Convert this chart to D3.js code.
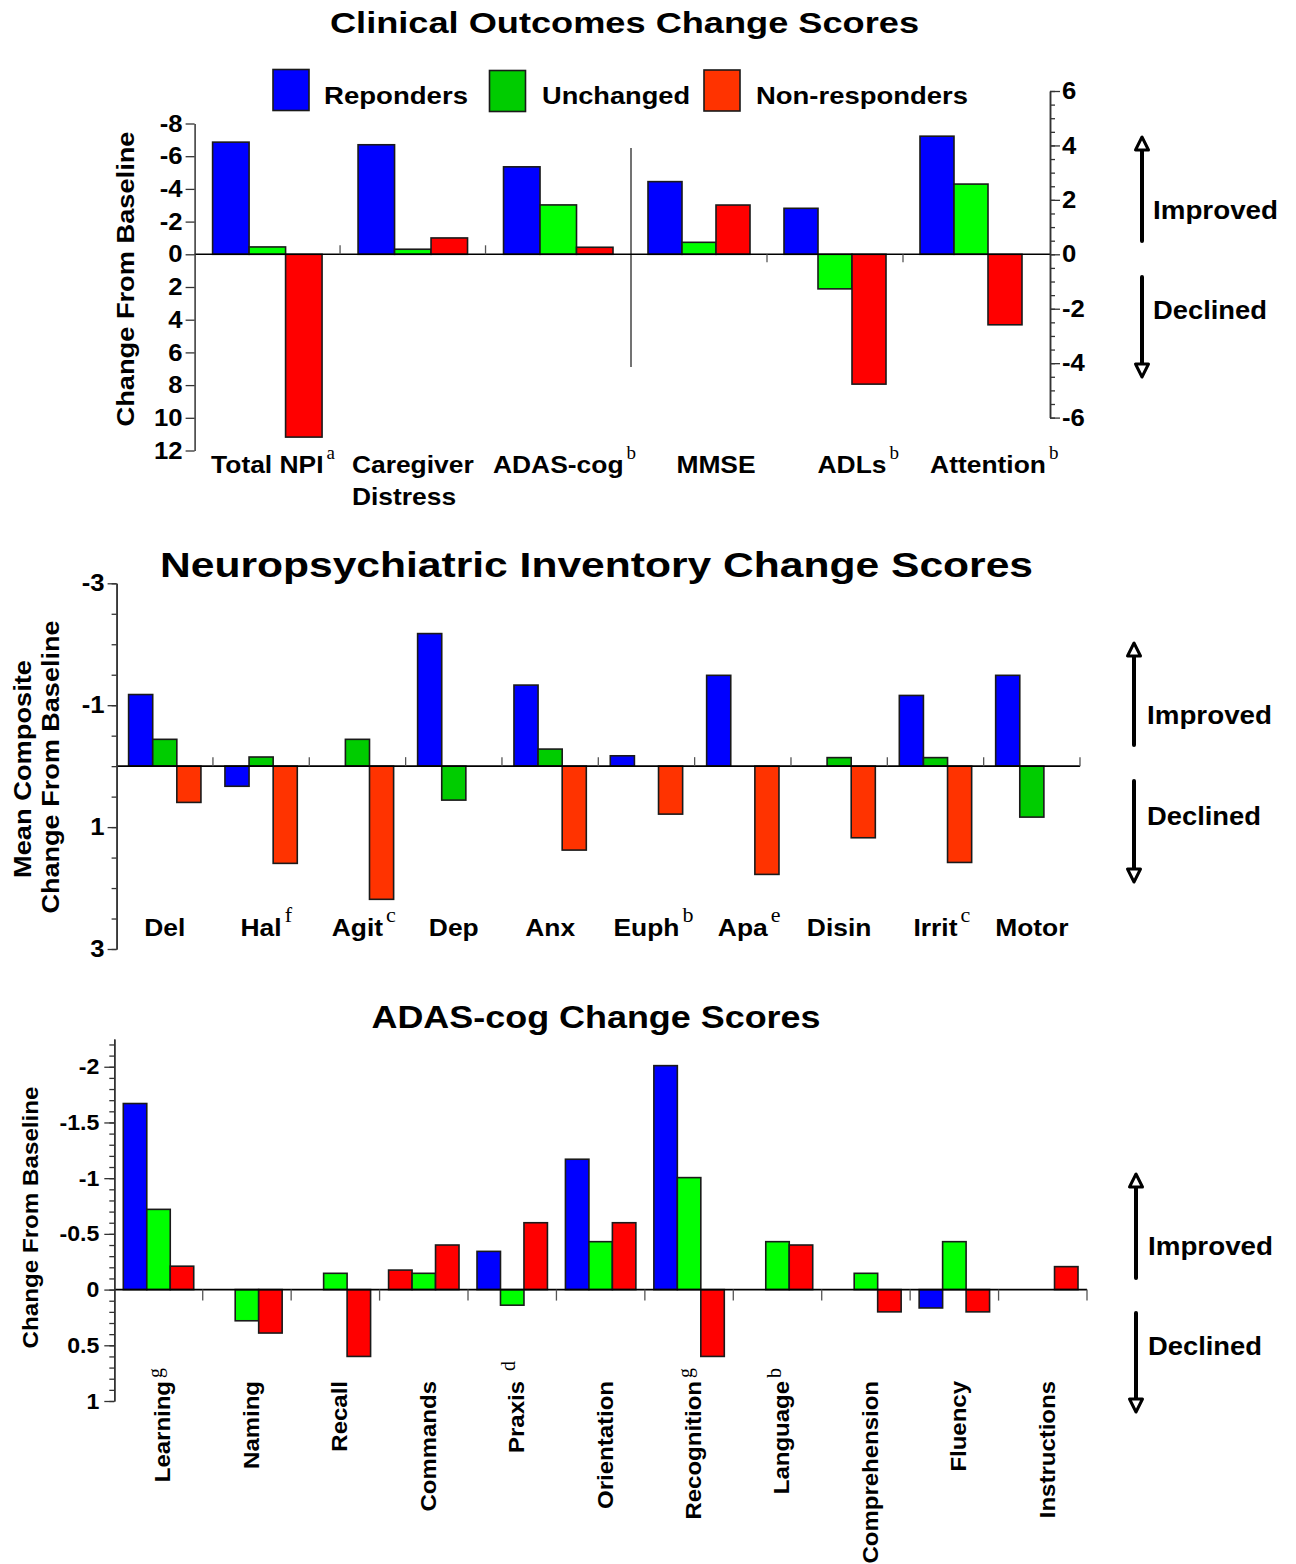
<!DOCTYPE html>
<html>
<head>
<meta charset="utf-8">
<script src="https://cdn.jsdelivr.net/npm/d3@7"></script>
<style>
  body { margin: 0; background: #fff; }
  svg { display: block; }
</style>
</head>
<body>
<svg id="chart" width="1296" height="1564"></svg>
<script>
// ---- data ----
const series = ["Reponders", "Unchanged", "Non-responders"];

// Clinical outcomes: left panel (left axis, negative = improved)
const clinicalLeftCats = ["Total NPI", "Caregiver|Distress", "ADAS-cog"];
const clinicalLeftSups = ["a", "", "b"];
const clinicalLeftResponders = [-6.86, -6.7, -5.35];
const clinicalLeftUnchanged = [-0.45, -0.31, -3.02];
const clinicalLeftNonresponders = [11.18, -1.0, -0.43];

// Clinical outcomes: right panel (right axis, positive = improved)
const clinicalRightCats = ["MMSE", "ADLs", "Attention"];
const clinicalRightSups = ["", "b", "b"];
const clinicalRightResponders = [2.67, 1.69, 4.34];
const clinicalRightUnchanged = [0.44, -1.27, 2.58];
const clinicalRightNonresponders = [1.81, -4.77, -2.59];

const clinicalLeftTicks = [-8, -6, -4, -2, 0, 2, 4, 6, 8, 10, 12];
const clinicalRightTicks = [6, 4, 2, 0, -2, -4, -6];

// Neuropsychiatric inventory
const npiCats = ["Del", "Hal", "Agit", "Dep", "Anx", "Euph", "Apa", "Disin", "Irrit", "Motor"];
const npiSups = ["", "f", "c", "", "", "b", "e", "", "c", ""];
const npiResponders = [-1.175, 0.33, null, -2.175, -1.33, -0.17, -1.49, null, -1.16, -1.49];
const npiUnchanged = [-0.44, -0.15, -0.44, 0.557, -0.28, null, null, -0.14, -0.14, 0.836];
const npiNonresponders = [0.595, 1.595, 2.185, null, 1.377, 0.787, 1.776, 1.175, 1.58, null];
const npiTicks = [-3, -1, 1, 3];

// ADAS-cog
const adasCats = ["Learning", "Naming", "Recall", "Commands", "Praxis", "Orientation",
  "Recognition", "Language", "Comprehension", "Fluency", "Instructions"];
const adasSups = ["g", "", "", "", " d", "", "g", "b", "", "", ""];
const adasResponders = [-1.67, null, null, -0.175, -0.343, -1.17, -2.01, null, null, 0.165, null];
const adasUnchanged = [-0.72, 0.28, -0.146, -0.146, 0.14, -0.43, -1.005, -0.43, -0.146, -0.43, null];
const adasNonresponders = [-0.21, 0.39, 0.6, -0.40, -0.60, -0.60, 0.6, -0.40, 0.2, 0.2, -0.206];
const adasTicks = [-2, -1.5, -1, -0.5, 0, 0.5, 1];

// ---- styles ----
const SANS = 'Arial, "Liberation Sans", Helvetica, sans-serif';
const SERIF = '"Liberation Serif", "Times New Roman", serif';
const brightColors = ["#0000FF", "#00FF00", "#FF0000"];
const npiColors = ["#0000FF", "#00CC00", "#FF3300"];
const legendColors = ["#0000FF", "#00CC00", "#FF3300"];
// the first Commands bar is drawn red in the original figure
const adasFillOverride = { "Commands": { 0: "#FF0000" } };
const STRETCH = 1.1; // the original type is set a little wider than Arial

const svg = d3.select("#chart");

// widen a text element's glyphs by factor k, returns the new width
function stretch(t, k) {
  const w = t.node().getComputedTextLength() * k;
  t.attr("textLength", w).attr("lengthAdjust", "spacingAndGlyphs");
  return w;
}

function txt(g, s, x, y, size, opts = {}) {
  const t = g.append("text")
    .attr("x", x).attr("y", y)
    .attr("font-family", opts.serif ? SERIF : SANS)
    .attr("font-weight", opts.serif ? "normal" : "bold")
    .attr("font-size", size)
    .attr("fill", "#000")
    .attr("text-anchor", opts.anchor || "start")
    .text(s);
  if (opts.transform) t.attr("transform", opts.transform);
  if (opts.len) t.attr("textLength", opts.len).attr("lengthAdjust", "spacingAndGlyphs");
  else if (opts.k) stretch(t, opts.k);
  return t;
}

function drawBars(g, cats, valueLists, colors, x0, x1, y, override) {
  valueLists.forEach((vals, si) => {
    const rows = cats.map((c, i) => ({ c, v: vals[i] })).filter(d => d.v !== null);
    g.selectAll(null).data(rows).join("rect")
      .attr("x", d => x0(d.c) + x1(series[si]))
      .attr("y", d => Math.min(y(0), y(d.v)))
      .attr("width", x1.bandwidth())
      .attr("height", d => Math.abs(y(d.v) - y(0)))
      .attr("fill", d => (override && override[d.c] && override[d.c][si]) || colors[si])
      .attr("stroke", "#1a1a1a")
      .attr("stroke-width", 1.6);
  });
}

function styleAxis(ax, size, k) {
  ax.attr("color", "#333");
  ax.select(".domain").attr("stroke-width", 1.5);
  ax.selectAll(".tick line").attr("stroke-width", 1.3);
  ax.selectAll("text")
    .attr("font-family", SANS).attr("font-weight", "bold")
    .attr("font-size", size).attr("fill", "#000")
    .each(function () { if (k && this.textContent) stretch(d3.select(this), k); });
}

function separators(g, x0, y0, dir, len, withEnd) {
  const bounds = x0.domain().slice(1).map(c => x0(c));
  if (withEnd) bounds.push(x0.range()[1]);
  g.selectAll(null).data(bounds).join("line")
    .attr("x1", d => d).attr("x2", d => d)
    .attr("y1", y0).attr("y2", y0 + dir * len)
    .attr("stroke", "#555").attr("stroke-width", 1.3);
}

function arrows(g, x, tipUp, endUp, topDown, tipDown, tx, impY, decY) {
  g.append("line").attr("x1", x).attr("x2", x).attr("y1", tipUp + 12).attr("y2", endUp)
    .attr("stroke", "#000").attr("stroke-width", 4).attr("stroke-linecap", "round");
  g.append("path")
    .attr("d", `M${x},${tipUp} L${x - 6.5},${tipUp + 13} L${x + 6.5},${tipUp + 13} Z`)
    .attr("fill", "#fff").attr("stroke", "#000").attr("stroke-width", 3).attr("stroke-linejoin", "round");
  g.append("line").attr("x1", x).attr("x2", x).attr("y1", topDown).attr("y2", tipDown - 12)
    .attr("stroke", "#000").attr("stroke-width", 4).attr("stroke-linecap", "round");
  g.append("path")
    .attr("d", `M${x},${tipDown} L${x - 6.5},${tipDown - 13} L${x + 6.5},${tipDown - 13} Z`)
    .attr("fill", "#fff").attr("stroke", "#000").attr("stroke-width", 3).attr("stroke-linejoin", "round");
  txt(g, "Improved", tx, impY, 25, { len: 125 });
  txt(g, "Declined", tx, decY, 25, { len: 114 });
}

function labelWithSup(g, label, sup, cx, y, size, supSize, raise) {
  const t = txt(g, label, cx, y, size, { anchor: "middle", k: STRETCH });
  if (sup) {
    const w = +t.attr("textLength");
    txt(g, sup.trim(), cx + w / 2 + (sup.startsWith(" ") ? 6 : 3), y - raise, supSize, { serif: true });
  }
}

// ================= Chart 1: Clinical Outcomes =================
const c1 = svg.append("g");
txt(c1, "Clinical Outcomes Change Scores", 330, 33, 30, { len: 589 });

// legend
const legendBoxes = [[273, 69.5], [489.5, 70.5], [704, 70]];
const legendTextX = [324, 542, 756];
const legendLen = [144, 148, 212];
series.forEach((s, i) => {
  c1.append("rect").attr("x", legendBoxes[i][0]).attr("y", legendBoxes[i][1])
    .attr("width", 36).attr("height", 41)
    .attr("fill", legendColors[i]).attr("stroke", "#1a1a1a").attr("stroke-width", 1.6);
  txt(c1, s, legendTextX[i], 104, 24, { len: legendLen[i] });
});

const yL = d3.scaleLinear().domain([-8, 12]).range([123.5, 450.5]);
const yR = d3.scaleLinear().domain([6, -6]).range([91, 417.6]);
const x0L = d3.scaleBand().domain(clinicalLeftCats).range([194.6, 631]);
const x1L = d3.scaleBand().domain(series).range([18, x0L.bandwidth() - 18]);
const x0R = d3.scaleBand().domain(clinicalRightCats).range([631, 1039]);
const x1R = d3.scaleBand().domain(series).range([17, x0R.bandwidth() - 17]);

// divider between the two panels
c1.append("line").attr("x1", 631).attr("x2", 631).attr("y1", 148).attr("y2", 367)
  .attr("stroke", "#444").attr("stroke-width", 1.5);

drawBars(c1, clinicalLeftCats,
  [clinicalLeftResponders, clinicalLeftUnchanged, clinicalLeftNonresponders],
  brightColors, x0L, x1L, yL);
drawBars(c1, clinicalRightCats,
  [clinicalRightResponders, clinicalRightUnchanged, clinicalRightNonresponders],
  brightColors, x0R, x1R, yR);

c1.append("line").attr("x1", 194.6).attr("x2", 1050).attr("y1", yL(0)).attr("y2", yL(0))
  .attr("stroke", "#000").attr("stroke-width", 1.6);
separators(c1, x0L, yL(0), -1, 9, false);
separators(c1, x0R, yL(0), 1, 8, false);

const axL = c1.append("g").attr("transform", "translate(194.6,0)")
  .call(d3.axisLeft(yL).tickValues(clinicalLeftTicks).tickFormat(d => String(d))
    .tickSize(9).tickSizeOuter(0).tickPadding(3));
styleAxis(axL, 24, 1.07);

const axRminor = c1.append("g").attr("transform", "translate(1050,0)")
  .call(d3.axisRight(yR).tickValues(d3.range(-6, 6.01, 0.5)).tickFormat("")
    .tickSize(5).tickSizeOuter(0));
styleAxis(axRminor, 24);
const axR = c1.append("g").attr("transform", "translate(1050,0)")
  .call(d3.axisRight(yR).tickValues(clinicalRightTicks).tickFormat(d => String(d))
    .tickSize(10).tickSizeOuter(0).tickPadding(2));
styleAxis(axR, 24, 1.07);

txt(c1, "Change From Baseline", 0, 0, 24,
  { anchor: "middle", len: 295, transform: "translate(134,279) rotate(-90)" });

clinicalLeftCats.forEach((c, i) => {
  const cx = x0L(c) + x0L.bandwidth() / 2;
  const lines = c.split("|");
  if (lines.length > 1) {
    const t = txt(c1, lines[0], cx, 473, 24, { anchor: "middle", k: STRETCH });
    const w = +t.attr("textLength");
    txt(c1, lines[1], cx - w / 2, 505, 24, { k: STRETCH });
  } else {
    labelWithSup(c1, c, clinicalLeftSups[i], cx, 473, 24, 19, 14);
  }
});
clinicalRightCats.forEach((c, i) => {
  const cx = x0R(c) + x0R.bandwidth() / 2 + 17;
  labelWithSup(c1, c, clinicalRightSups[i], cx, 473, 24, 19, 14);
});

arrows(c1, 1142, 137, 241, 277, 377, 1153, 219, 319);

// ================= Chart 2: Neuropsychiatric Inventory =================
const c2 = svg.append("g");
txt(c2, "Neuropsychiatric Inventory Change Scores", 160, 577, 35, { len: 873 });

const yN = d3.scaleLinear().domain([-3, 3]).range([583.3, 949]);
const x0N = d3.scaleBand().domain(npiCats).range([116.6, 1080]);
const x1N = d3.scaleBand().domain(series).range([12, x0N.bandwidth() - 12]);

drawBars(c2, npiCats, [npiResponders, npiUnchanged, npiNonresponders], npiColors, x0N, x1N, yN);

c2.append("line").attr("x1", 116.6).attr("x2", 1080).attr("y1", yN(0)).attr("y2", yN(0))
  .attr("stroke", "#000").attr("stroke-width", 1.6);
separators(c2, x0N, yN(0), -1, 9, true);

const axNminor = c2.append("g").attr("transform", "translate(116.6,0)")
  .call(d3.axisLeft(yN).tickValues(d3.range(-3, 3.01, 0.5)).tickFormat("")
    .tickSize(5).tickSizeOuter(0));
styleAxis(axNminor, 24);
const axN = c2.append("g").attr("transform", "translate(116.6,0)")
  .call(d3.axisLeft(yN).tickValues(npiTicks).tickFormat(d => String(d))
    .tickSize(9).tickSizeOuter(0).tickPadding(3));
styleAxis(axN, 24, 1.07);

txt(c2, "Mean Composite", 0, 0, 24,
  { anchor: "middle", len: 218, transform: "translate(30.5,769) rotate(-90)" });
txt(c2, "Change From Baseline", 0, 0, 24,
  { anchor: "middle", len: 293, transform: "translate(59,767) rotate(-90)" });

npiCats.forEach((c, i) => {
  const cx = x0N(c) + x0N.bandwidth() / 2;
  labelWithSup(c2, c, npiSups[i], cx, 936, 24, 22, 14);
});

arrows(c2, 1134, 643, 745, 781, 882, 1147, 724, 825);

// ================= Chart 3: ADAS-cog =================
const c3 = svg.append("g");
txt(c3, "ADAS-cog Change Scores", 371.5, 1028, 32, { len: 449 });

const yA = d3.scaleLinear().domain([-2.25, 1]).range([1038.9, 1401]);
const x0A = d3.scaleBand().domain(adasCats).range([114.3, 1087]);
const x1A = d3.scaleBand().domain(series).range([9, x0A.bandwidth() - 9]);

drawBars(c3, adasCats, [adasResponders, adasUnchanged, adasNonresponders],
  brightColors, x0A, x1A, yA, adasFillOverride);

c3.append("line").attr("x1", 114.3).attr("x2", 1087).attr("y1", yA(0)).attr("y2", yA(0))
  .attr("stroke", "#000").attr("stroke-width", 1.6);
separators(c3, x0A, yA(0), 1, 11, true);

const axAminor = c3.append("g").attr("transform", "translate(114.3,0)")
  .call(d3.axisLeft(yA).tickValues(d3.range(-22, 11).map(d => d / 10)).tickFormat("")
    .tickSize(5).tickSizeOuter(0));
styleAxis(axAminor, 22);
const axA = c3.append("g").attr("transform", "translate(114.3,0)")
  .call(d3.axisLeft(yA).tickValues(adasTicks).tickFormat(d => String(d))
    .tickSize(10).tickSizeOuter(0).tickPadding(5));
styleAxis(axA, 22, 1.05);

txt(c3, "Change From Baseline", 0, 0, 22,
  { anchor: "middle", len: 262, transform: "translate(37.5,1217.5) rotate(-90)" });

adasCats.forEach((c, i) => {
  const cx = x0A(c) + x0A.bandwidth() / 2 + 4;
  const g = c3.append("g").attr("transform", `translate(${cx},1381) rotate(-90)`);
  txt(g, c, 0, 0, 22, { anchor: "end", k: 1.09 }).attr("dy", "0.36em");
  const sup = adasSups[i];
  if (sup) {
    txt(g, sup.trim(), sup.startsWith(" ") ? 10 : 3, 0, 20, { serif: true }).attr("dy", "-0.05em");
  }
});

arrows(c3, 1136, 1174, 1278, 1313, 1412, 1148, 1255, 1355);
</script>
</body>
</html>
